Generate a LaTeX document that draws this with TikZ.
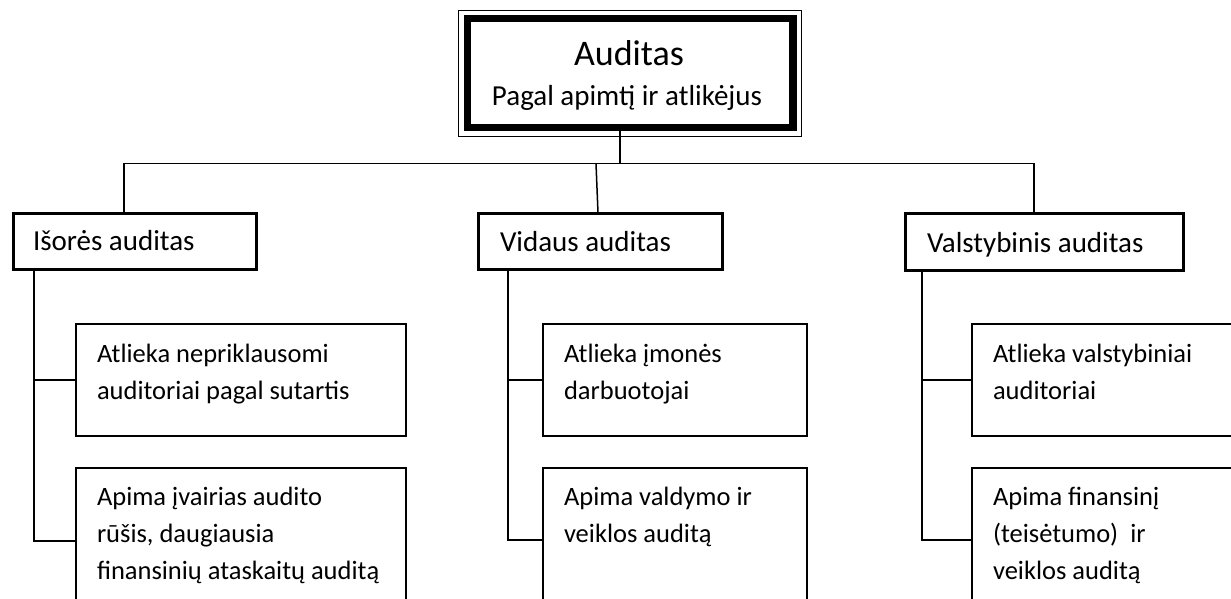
\documentclass[tikz,border=0pt]{standalone}
\usepackage{fontspec}
\setmainfont{Carlito}
\usetikzlibrary{calc}
\tikzset{
  every node/.style={outer sep=0pt, inner sep=0pt},
  rootbox/.style={draw, line width=7.5pt},
  catbox/.style={draw, line width=3pt},
  leafbox/.style={draw, line width=1.5pt},
  conn/.style={line width=1.5pt},
  toptitle/.style={font=\fontsize{36}{40}\selectfont},
  topsub/.style={font=\fontsize{29}{34}\selectfont},
  cattext/.style={font=\fontsize{29}{34}\selectfont, anchor=base west},
  leaftext/.style={font=\fontsize{26.5}{37}\selectfont, anchor=base west, align=left},
}
\begin{document}
\begin{tikzpicture}[x=1pt, y=-1pt, line join=miter]
\useasboundingbox (0,0) rectangle (1231,598);
\clip (0,0) rectangle (1231,598);

% root box with double border
\node[rootbox, minimum width=325.5pt, minimum height=109pt] (root) at (630,73) {};
\draw[line width=1pt] ($(root.north west)+(-8.5,-8.5)$) rectangle ($(root.south east)+(8.5,8.5)$);
\node[toptitle, anchor=base] (title) at (629,65) {Auditas};
\node[topsub, anchor=base] (subtitle) at (627,105) {Pagal apimtį ir atlikėjus};

% category boxes
\node[catbox, minimum width=243pt, minimum height=56pt] (A) at (134.5,241) {};
\node[catbox, minimum width=244pt, minimum height=56pt] (B) at (600,241) {};
\node[catbox, minimum width=278pt, minimum height=57pt] (C) at (1044,241.5) {};
\node[cattext] (Atext) at (33,250) {Išorės auditas};
\node[cattext] (Btext) at (500,251) {Vidaus auditas};
\node[cattext] (Ctext) at (927,252) {Valstybinis auditas};

% leaf boxes
\node[leafbox, anchor=north west, minimum width=330pt, minimum height=112pt] (A1) at (76,324) {};
\node[leafbox, anchor=north west, minimum width=330pt, minimum height=142pt] (A2) at (76,468) {};
\node[leafbox, anchor=north west, minimum width=264pt, minimum height=112pt] (B1) at (543,324) {};
\node[leafbox, anchor=north west, minimum width=264pt, minimum height=142pt] (B2) at (543,468) {};
\node[leafbox, anchor=north west, minimum width=268pt, minimum height=112pt] (C1) at (972,324) {};
\node[leafbox, anchor=north west, minimum width=268pt, minimum height=142pt] (C2) at (972,468) {};

% texts: the base anchor of a multi-line node is the baseline of its last line
\node[leaftext] (A1text) at (97,399) {Atlieka nepriklausomi\\auditoriai pagal sutartis};
\node[leaftext] (A2text) at (97,579) {Apima įvairias audito\\rūšis, daugiausia\\finansinių ataskaitų auditą};
\node[leaftext] (B1text) at (564,399) {Atlieka įmonės\\darbuotojai};
\node[leaftext] (B2text) at (564,542) {Apima valdymo ir\\veiklos auditą};
\node[leaftext] (C1text) at (993,399) {Atlieka valstybiniai\\auditoriai};
\node[leaftext] (C2text) at (993,579) {Apima finansinį\\(teisėtumo)\ \ ir\\veiklos auditą};

% tree connectors
\coordinate (hub) at (620,163.5);
\draw[conn] (root.south -| hub) -- (hub);
\draw[conn] (A.north -| 124,0) |- (hub) -| (C.north -| 1034,0);
\draw[conn] (596,163.5) -- (B.north -| 598,0);

% leaf connectors
\coordinate (As) at ($(A.south west)+(21,0)$);
\coordinate (Bs) at ($(B.south west)+(30,0)$);
\coordinate (Cs) at ($(C.south west)+(17,0)$);
\draw[conn] (As) |- (A1.west);
\draw[conn] (As) |- (A2.west |- 0,541);
\draw[conn] (Bs) |- (B1.west);
\draw[conn] (Bs) |- (B2.west |- 0,540);
\draw[conn] (Cs) |- (C1.west);
\draw[conn] (Cs) |- (C2.west |- 0,540);
\end{tikzpicture}
\end{document}
